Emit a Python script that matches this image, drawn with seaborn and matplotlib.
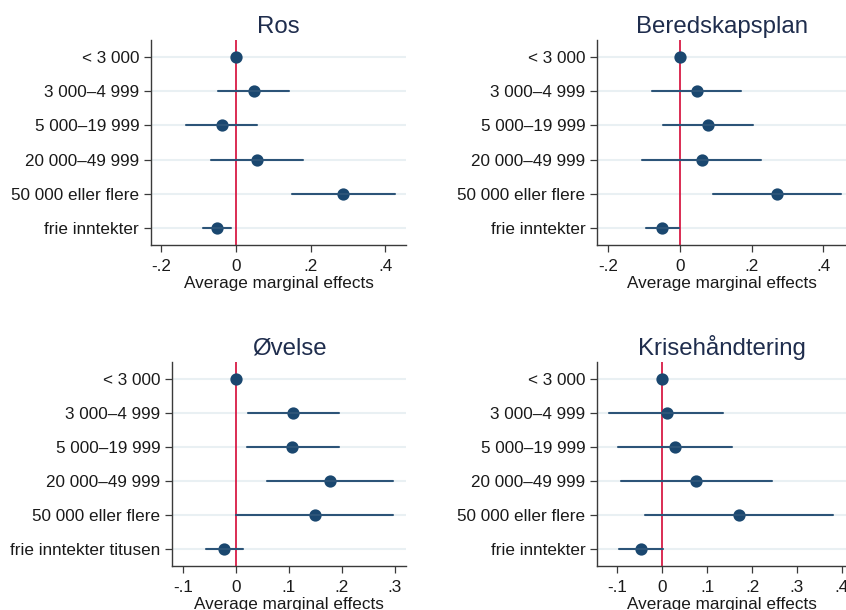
import numpy as np
import pandas as pd
import matplotlib
matplotlib.use("Agg")
import matplotlib.pyplot as plt
import seaborn as sns

# Income categories (rows from top to bottom)
cats_std = ["< 3 000", "3 000\u20134 999", "5 000\u201319 999", "20 000\u201349 999",
            "50 000 eller flere", "frie inntekter"]
cats_ovelse = ["< 3 000", "3 000\u20134 999", "5 000\u201319 999", "20 000\u201349 999",
               "50 000 eller flere", "frie inntekter titusen"]

# Average marginal effects with 95% confidence bounds
ros_est = [0.0, 0.048, -0.038, 0.057, 0.288, -0.052]
ros_lo = [0.0, -0.047, -0.134, -0.068, 0.151, -0.089]
ros_hi = [0.0, 0.143, 0.056, 0.181, 0.426, -0.014]

bered_est = [0.0, 0.047, 0.079, 0.062, 0.271, -0.049]
bered_lo = [0.0, -0.077, -0.047, -0.105, 0.092, -0.096]
bered_hi = [0.0, 0.171, 0.205, 0.227, 0.449, -0.004]

ovelse_est = [0.0, 0.108, 0.106, 0.177, 0.149, -0.022]
ovelse_lo = [0.0, 0.022, 0.020, 0.059, 0.001, -0.057]
ovelse_hi = [0.0, 0.195, 0.194, 0.296, 0.297, 0.013]

krise_est = [0.0, 0.010, 0.029, 0.076, 0.172, -0.046]
krise_lo = [0.0, -0.117, -0.099, -0.092, -0.038, -0.095]
krise_hi = [0.0, 0.135, 0.156, 0.245, 0.381, 0.003]

titles = ["Ros", "Beredskapsplan", "\u00d8velse", "Kriseh\u00e5ndtering"]
xticks_top = [-0.2, 0.0, 0.2, 0.4]
xticks_bottom_left = [-0.1, 0.0, 0.1, 0.2, 0.3]
xticks_bottom_right = [-0.1, 0.0, 0.1, 0.2, 0.3, 0.4]
xlabel = "Average marginal effects"

sns.set_theme(style="ticks")
plt.rcParams["font.family"] = ["Liberation Sans", "DejaVu Sans"]

NAVY = "#1a476f"
RED = "#d81b45"
GRID = "#e9f0f3"
TEXT = "#1a1a1a"
SPINE = "#3a3a3a"

W, H = 846, 610
fig = plt.figure(figsize=(W / 100, H / 100), dpi=100)
fig.patch.set_facecolor("white")


def rect(left, right, top, bottom):
    return [left / W, (H - bottom) / H, (right - left) / W, (bottom - top) / H]


panels = [
    (rect(151, 406, 40, 245), cats_std, ros_est, ros_lo, ros_hi, (-0.228, 0.456), xticks_top),
    (rect(597.3, 846, 40, 245), cats_std, bered_est, bered_lo, bered_hi, (-0.231, 0.464), xticks_top),
    (rect(172.4, 406, 361.7, 566), cats_ovelse, ovelse_est, ovelse_lo, ovelse_hi, (-0.120, 0.321), xticks_bottom_left),
    (rect(597.3, 846, 361.7, 566), cats_std, krise_est, krise_lo, krise_hi, (-0.144, 0.409), xticks_bottom_right),
]


def fmt(v):
    if abs(v) < 1e-9:
        return "0"
    s = f"{v:.1f}"
    return s.replace("0.", ".")


for (r, cats, est, lo, hi, xlim, xt), title in zip(panels, titles):
    ax = fig.add_axes(r)
    # long table: lower bound, estimate and upper bound per category;
    # the median gives the estimate, min/max give the interval
    df = pd.DataFrame({
        "category": np.repeat(cats, 3),
        "value": np.column_stack([lo, est, hi]).ravel(),
    })
    ax.axvline(0, color=RED, lw=1.3, zorder=1.5)
    sns.pointplot(data=df, x="value", y="category", order=cats,
                  estimator="median", errorbar=lambda v: (v.min(), v.max()),
                  linestyle="none", marker="o", markersize=6.8,
                  color=NAVY, err_kws={"linewidth": 1.5, "color": "#2c5478"},
                  ax=ax, zorder=3)
    ax.set_ylim(len(cats) - 0.5, -0.5)
    ax.set_xlim(*xlim)
    ax.set_xticks(xt)
    ax.set_xticklabels([fmt(v) for v in xt])
    ax.set_ylabel("")
    ax.set_xlabel(xlabel, fontsize=12.3, color=TEXT, labelpad=1.5)
    ax.grid(axis="y", color=GRID, lw=1.5, zorder=0)
    ax.grid(axis="x", visible=False)
    ax.set_axisbelow(True)
    for side in ("top", "right"):
        ax.spines[side].set_visible(False)
    for side in ("left", "bottom"):
        ax.spines[side].set_color(SPINE)
        ax.spines[side].set_linewidth(1.0)
    ax.tick_params(axis="both", which="major", labelsize=12.3, labelcolor=TEXT,
                   color=SPINE, length=5, width=0.9)
    ax.tick_params(axis="y", pad=3.5)
    ax.tick_params(axis="x", pad=5)
    ax.set_title(title, fontsize=17.3, color="#1f2d4d", pad=5)
    ax.set_facecolor("white")

fig.savefig("out.png", dpi=100, facecolor="white")
